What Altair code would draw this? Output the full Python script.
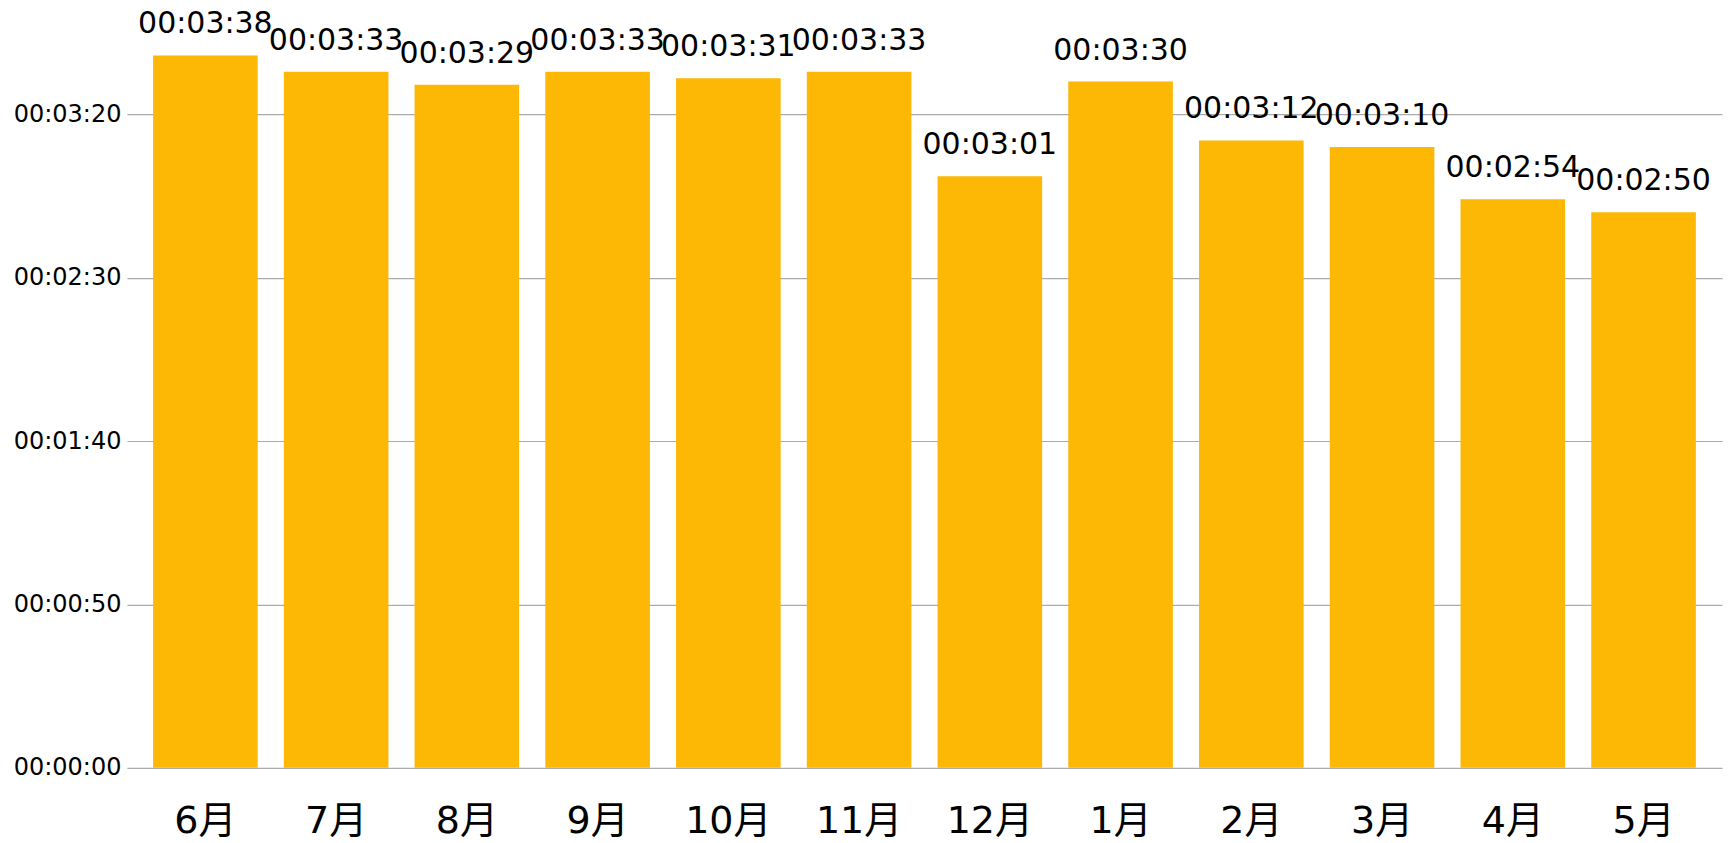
import altair as alt
import pandas as pd

months = ["6月", "7月", "8月", "9月", "10月", "11月", "12月", "1月", "2月", "3月", "4月", "5月"]
seconds = [218, 213, 209, 213, 211, 213, 181, 210, 192, 190, 174, 170]
y_ticks = [0, 50, 100, 150, 200]

labels = [f"{s // 3600:02d}:{(s % 3600) // 60:02d}:{s % 60:02d}" for s in seconds]
df = pd.DataFrame({"month": months, "sec": seconds, "label": labels})

BAR = "#FDB705"
FONT = "DejaVu Sans"

x = alt.X(
    "month:N",
    sort=months,
    title=None,
    scale=alt.Scale(paddingInner=0.2, paddingOuter=0.2),
    axis=alt.Axis(
        labelAngle=0,
        labelFontSize=38,
        labelFont="DejaVu Sans, Noto Sans CJK JP",
        labelColor="#000000",
        labelPadding=35,
        ticks=False,
        tickSize=0,
        domain=False,
        grid=False,
    ),
)
y = alt.Y(
    "sec:Q",
    title=None,
    scale=alt.Scale(domain=[0, 230], nice=False),
    axis=alt.Axis(
        values=y_ticks,
        labelExpr="utcFormat(datum.value * 1000, '%H:%M:%S')",
        labelFontSize=24,
        labelFont=FONT,
        labelColor="#000000",
        labelPadding=6,
        ticks=False,
        tickSize=0,
        domain=False,
        grid=True,
        gridColor="#ababab",
        gridWidth=1.2,
    ),
)

bars = alt.Chart(df).mark_bar(color=BAR).encode(x=x, y=y)
text = alt.Chart(df).mark_text(
    baseline="alphabetic", dy=-22, fontSize=30, font=FONT, color="#000000"
).encode(x=alt.X("month:N", sort=months), y="sec:Q", text="label:N")

chart = (
    alt.layer(bars, text)
    .properties(
        width=1596,
        height=752,
        autosize=alt.AutoSizeParams(type="none"),
        padding={"left": 119, "top": 8, "right": 2, "bottom": 74},
    )
    .configure_view(stroke=None)
)

chart.save("out.html", embed_options={"renderer": "svg", "actions": False})
